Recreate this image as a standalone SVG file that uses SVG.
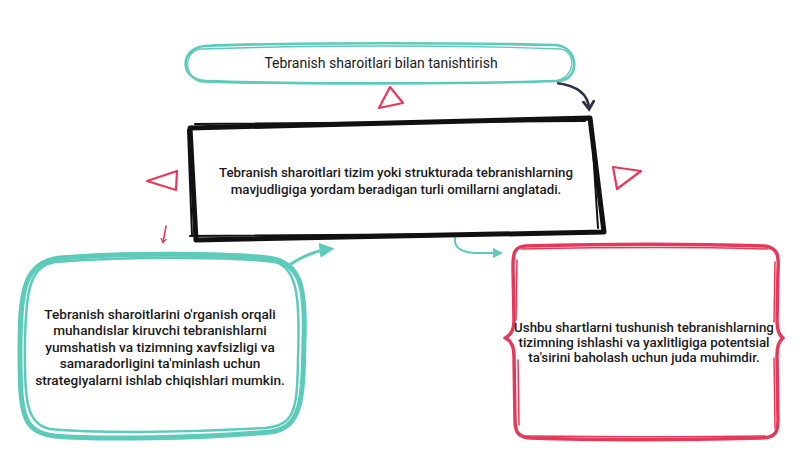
<svg xmlns="http://www.w3.org/2000/svg" width="800" height="450" viewBox="0 0 800 450">
<defs>
<style>
.teal{fill:none;stroke:#5ccbb9;stroke-linecap:round;stroke-linejoin:round}
.red{fill:none;stroke:#e8385a;stroke-linecap:round;stroke-linejoin:round}
.blk{fill:none;stroke:#111;stroke-linecap:round;stroke-linejoin:round}
.t{font-family:Roboto,"Liberation Sans",sans-serif;fill:#1a1a1a;text-anchor:middle}
.b{font-weight:500}
</style>
<marker id="ahDark" viewBox="0 0 10 10" refX="6" refY="5" markerWidth="5" markerHeight="5" orient="auto">
<path d="M1,1 L7,5 L1,9" fill="none" stroke="#2d3047" stroke-width="2.2" stroke-linecap="round"/>
</marker>
<marker id="ahTeal" viewBox="0 0 10 10" refX="7" refY="5" markerWidth="5" markerHeight="5" orient="auto">
<path d="M0,0 L10,5 L0,10 Z" fill="#5ccbb9"/>
</marker>
<marker id="ahRed" viewBox="0 0 10 10" refX="6" refY="5" markerWidth="4" markerHeight="4" orient="auto">
<path d="M1,1 L7,5 L1,9" fill="none" stroke="#e8385a" stroke-width="2" stroke-linecap="round"/>
</marker>
</defs>
<rect width="800" height="450" fill="#fff"/>

<g id="connectors">
<path d="M557,83 C578,86 588,94 589,108" fill="none" stroke="#2d3047" stroke-width="2.6" marker-end="url(#ahDark)"/>
<path d="M166,226 C165,232 164,237 163,242" class="red" stroke-width="1.6" marker-end="url(#ahRed)"/>
<path d="M291,264 C303,256 315,251 330,249" class="teal" stroke-width="3" marker-end="url(#ahTeal)"/>
<path d="M455,238 C454,247 460,252 475,253 L500,253" class="teal" stroke-width="2" marker-end="url(#ahTeal)"/>
<path d="M379,108 L390,87 L403,103 Z" class="red" stroke-width="2.2"/>
<path d="M147,181 L177,171 L176,190 Z" class="red" stroke-width="2.2"/>
<path d="M613,167 L641,171 L617,189 Z" class="red" stroke-width="2.2"/>
</g>

<g id="node-top">
<path d="M205,46 C300,42 470,43 555,45 C579,46 581,80 558,81 C470,84 300,84 206,81 C179,80 179,48 205,46 Z" fill="#fff" class="teal" stroke-width="2.6"/>
<path d="M200,49 C320,45 460,45 560,49 C577,51 576,78 555,81 C450,84 300,85 203,82 C184,80 182,52 200,49 Z" class="teal" stroke-width="1.4"/>
<text class="t" x="381" y="68" style="font-size:14px">Tebranish sharoitlari bilan tanishtirish</text>
</g>

<g id="node-center">
<path d="M190,128 L590,118 L604,232 L196,240 Z" fill="#fff" class="blk" stroke-width="5"/>
<path d="M195,124 L585,121 M591,119 L598,228 M188,130 L192,236 M190,236 L600,233" class="blk" stroke-width="2"/>
<text class="t b" style="font-size:13.3px"><tspan x="396" y="177">Tebranish sharoitlari tizim yoki strukturada tebranishlarning</tspan><tspan x="396" y="194">mavjudligiga yordam beradigan turli omillarni anglatadi.</tspan></text>
</g>

<g id="node-left">
<path d="M60,258 C130,252 230,254 268,258 C300,262 306,285 304,340 C303,400 302,428 270,432 C200,438 100,440 55,436 C22,432 20,415 20,350 C20,290 24,262 60,258 Z" fill="#fff" class="teal" stroke-width="5"/>
<path d="M55,262 C140,256 240,257 275,262 C298,268 300,300 298,360 C297,410 295,425 265,428 C180,433 90,433 50,429 C26,424 24,400 25,340 C26,290 30,266 55,262 Z" class="teal" stroke-width="2.5"/>
<text class="t b" style="font-size:13.6px"><tspan x="160" y="319">Tebranish sharoitlarini o'rganish orqali</tspan><tspan x="160" y="335">muhandislar kiruvchi tebranishlarni</tspan><tspan x="160" y="352">yumshatish va tizimning xavfsizligi va</tspan><tspan x="160" y="368">samaradorligini ta'minlash uchun</tspan><tspan x="160" y="385">strategiyalarni ishlab chiqishlari mumkin.</tspan></text>
</g>

<g id="node-right">
<path d="M525,246 C600,244 700,244 765,246 C778,248 779,256 778,270 L777,320 C777,332 780,336 783,338 C780,340 777,344 777,356 L778,420 C778,434 774,438 760,438 C680,440 590,440 530,438 C518,437 515,432 515,420 L514,356 C514,344 510,340 505,338 C510,336 514,332 514,320 L513,266 C513,252 515,247 525,246 Z" fill="#fff" class="red" stroke-width="3.5"/>
<path d="M522,249 C620,247 700,247 768,249 M517,260 L516,320 M775,262 L774,322 M518,360 L519,425 M774,358 L775,428 M525,436 C620,437 700,437 765,436" class="red" stroke-width="1.5"/>
<text class="t b" style="font-size:13.3px"><tspan x="644" y="332">Ushbu shartlarni tushunish tebranishlarning</tspan><tspan x="644" y="347">tizimning ishlashi va yaxlitligiga potentsial</tspan><tspan x="644" y="362">ta'sirini baholash uchun juda muhimdir.</tspan></text>
</g>
</svg>
